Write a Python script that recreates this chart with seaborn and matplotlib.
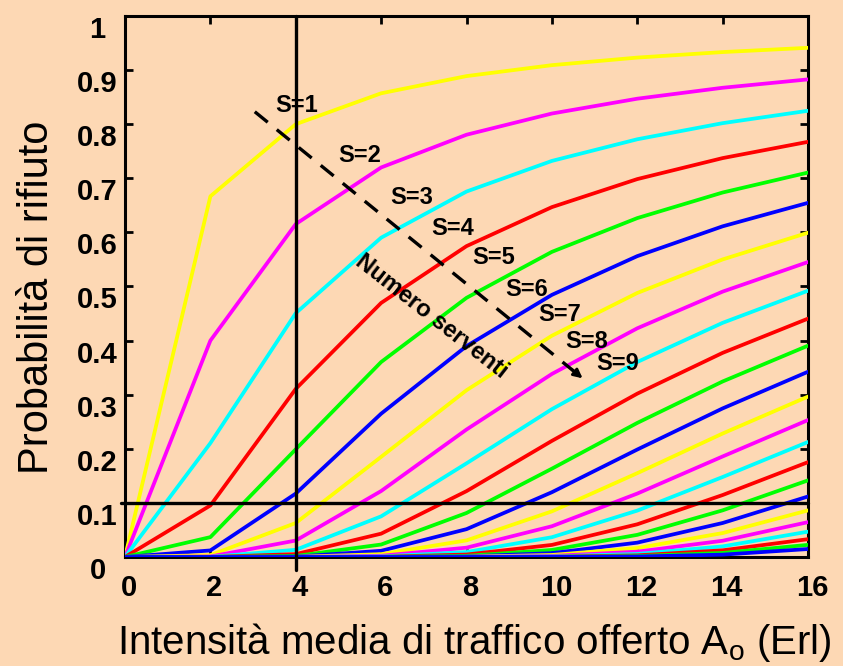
import numpy as np
import pandas as pd
import matplotlib
matplotlib.use("Agg")
import matplotlib.pyplot as plt
import matplotlib.transforms as mtransforms
import seaborn as sns

# Offered traffic (Erlang) and number of servers
traffic = [0, 2, 4, 6, 8, 10, 12, 14, 16]
servers = list(range(1, 25))

# Blocking probability for S = 1..24 at each traffic value
b_a0 = [0.0] * 24
b_a2 = [0.6667, 0.4000, 0.2105, 0.0952, 0.0367, 0.0121, 0.0034, 0.0009, 0.0002, 0.0000,
        0.0, 0.0, 0.0, 0.0, 0.0, 0.0, 0.0, 0.0, 0.0, 0.0, 0.0, 0.0, 0.0, 0.0]
b_a4 = [0.8000, 0.6154, 0.4507, 0.3107, 0.1991, 0.1172, 0.0628, 0.0304, 0.0133, 0.0053,
        0.0019, 0.0006, 0.0002, 0.0001, 0.0, 0.0, 0.0, 0.0, 0.0, 0.0, 0.0, 0.0, 0.0, 0.0]
b_a6 = [0.8571, 0.7200, 0.5902, 0.4696, 0.3604, 0.2649, 0.1851, 0.1219, 0.0751, 0.0431,
        0.0230, 0.0114, 0.0052, 0.0022, 0.0009, 0.0003, 0.0001, 0.0, 0.0, 0.0, 0.0, 0.0, 0.0, 0.0]
b_a8 = [0.8889, 0.7805, 0.6755, 0.5746, 0.4790, 0.3898, 0.3082, 0.2356, 0.1731, 0.1217,
        0.0813, 0.0514, 0.0307, 0.0172, 0.0091, 0.0045, 0.0021, 0.0009, 0.0004, 0.0002,
        0.0001, 0.0, 0.0, 0.0]
b_a10 = [0.9091, 0.8197, 0.7321, 0.6467, 0.5640, 0.4845, 0.4090, 0.3383, 0.2732, 0.2146,
         0.1632, 0.1197, 0.0843, 0.0568, 0.0365, 0.0223, 0.0130, 0.0071, 0.0037, 0.0019,
         0.0009, 0.0004, 0.0002, 0.0001]
b_a12 = [0.9231, 0.8471, 0.7721, 0.6985, 0.6264, 0.5561, 0.4880, 0.4227, 0.3604, 0.3019,
         0.2478, 0.1986, 0.1549, 0.1172, 0.0857, 0.0604, 0.0409, 0.0265, 0.0165, 0.0098,
         0.0056, 0.0030, 0.0016, 0.0008]
b_a14 = [0.9333, 0.8673, 0.8019, 0.7373, 0.6737, 0.6112, 0.5500, 0.4905, 0.4328, 0.3773,
         0.3244, 0.2746, 0.2282, 0.1858, 0.1478, 0.1145, 0.0862, 0.0628, 0.0442, 0.0300,
         0.0196, 0.0123, 0.0075, 0.0043]
b_a16 = [0.9412, 0.8828, 0.8248, 0.7674, 0.7106, 0.6546, 0.5994, 0.5452, 0.4922, 0.4406,
         0.3906, 0.3424, 0.2965, 0.2531, 0.2126, 0.1753, 0.1416, 0.1118, 0.0861, 0.0644,
         0.0468, 0.0329, 0.0224, 0.0147]

columns = [b_a0, b_a2, b_a4, b_a6, b_a8, b_a10, b_a12, b_a14, b_a16]

# Threshold guides
target_load = 4
target_block = 0.1

curve_cycle = ["#FFFF00", "#FF00FF", "#00FFFF", "#FF0000", "#00FF00", "#0000FF"]
label_servers = ["S=1", "S=2", "S=3", "S=4", "S=5", "S=6", "S=7", "S=8", "S=9"]
label_x = [4.03, 5.50, 6.72, 7.68, 8.64, 9.41, 10.19, 10.82, 11.55]
label_y = [0.835, 0.743, 0.665, 0.608, 0.553, 0.494, 0.449, 0.399, 0.357]

rows = []
for a, col in zip(traffic, columns):
    for s, b in zip(servers, col):
        rows.append({"A": a, "S": s, "B": b})
df = pd.DataFrame(rows)

bg = "#FDD8B4"
sns.set_theme(style="ticks")
plt.rcParams["font.family"] = ["Liberation Sans", "DejaVu Sans"]
plt.rcParams.update({"text.color": "black", "axes.labelcolor": "black",
                     "xtick.color": "black", "ytick.color": "black"})

fig = plt.figure(figsize=(8.43, 6.66), dpi=100, facecolor=bg)
ax = fig.add_axes([0.1483, 0.1637, 0.8102, 0.8123])
ax.set_facecolor(bg)

palette = [curve_cycle[(s - 1) % 6] for s in servers]
sns.lineplot(data=df, x="A", y="B", hue="S", palette=palette, estimator=None,
             linewidth=2.7, legend=False, ax=ax, zorder=3)

# Guide lines
ax.plot([target_load, target_load], [1.0, -0.024], color="black", lw=2.4,
        clip_on=False, zorder=5)
ax.plot([-0.1, 16], [target_block, target_block], color="black", lw=2.4,
        clip_on=False, zorder=5)

# Dashed "number of servers" arrow
start = (3.04, 0.823)
end = (10.77, 0.327)
ax.plot([start[0], end[0] - 0.25], [start[1], end[1] + 0.016], color="black",
        lw=2.4, dashes=(5, 3.5), zorder=6)
ax.annotate("", xy=end, xytext=(end[0] - 0.35, end[1] + 0.0225),
            arrowprops=dict(arrowstyle="-|>", color="black", lw=2.0,
                            mutation_scale=13), zorder=6)

for t, x, y in zip(label_servers, label_x, label_y):
    ax.text(x, y, t, fontsize=17, fontweight="bold", ha="center", va="center",
            zorder=7)
ax.text(7.19, 0.445, "Numero serventi", fontsize=17, fontweight="bold",
        rotation=-38, ha="center", va="center", rotation_mode="anchor", zorder=7)

ax.set_xlim(0, 16)
ax.set_ylim(0, 1)
ax.set_xticks(range(0, 17, 2))
ax.set_yticks(np.arange(0, 1.01, 0.1))
ax.set_yticklabels(["0", "0.1", "0.2", "0.3", "0.4", "0.5", "0.6", "0.7", "0.8", "0.9", "1"])
ax.tick_params(direction="in", length=6, width=2, top=True, right=True,
               labelsize=21, colors="black")
ax.tick_params(axis="x", pad=12)
ax.tick_params(axis="y", pad=6)
xshift = mtransforms.ScaledTranslation(4 / 100, 0, fig.dpi_scale_trans)
yshift = mtransforms.ScaledTranslation(-19 / 100, -11 / 100, fig.dpi_scale_trans)
for lab in ax.get_xticklabels():
    lab.set_fontweight("bold")
    lab.set_transform(lab.get_transform() + xshift)
for lab in ax.get_yticklabels():
    lab.set_fontweight("bold")
    lab.set_horizontalalignment("center")
    lab.set_transform(lab.get_transform() + yshift)
for sp in ax.spines.values():
    sp.set_visible(True)
    sp.set_linewidth(2.2)
    sp.set_color("black")

ax.set_xlabel("Intensità media di traffico offerto A$_\\mathregular{o}$ (Erl)",
              fontsize=29)
ax.set_ylabel("Probabilità di rifiuto", fontsize=30)
ax.xaxis.label.set_va("center")
ax.yaxis.label.set_va("center")
ax.xaxis.set_label_coords(0.511, -0.159)
ax.yaxis.set_label_coords(-0.129, 0.48)

fig.savefig("out.png", dpi=100, facecolor=bg)
